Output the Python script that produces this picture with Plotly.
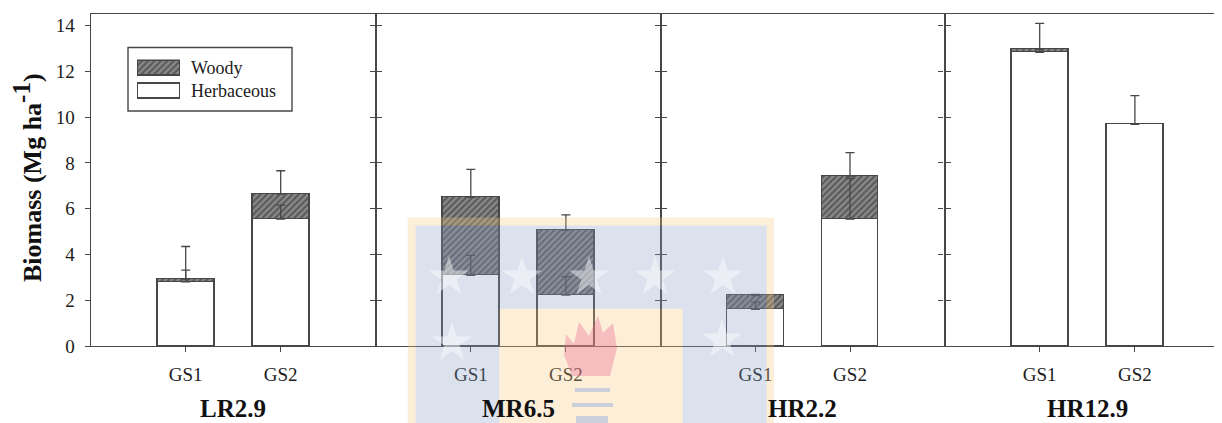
import math
import plotly.graph_objects as go

# ---------------- data ----------------
categories = ["GS1", "GS2"]
sites = ["LR2.9", "MR6.5", "HR2.2", "HR12.9"]
herbaceous = [[2.80, 5.55], [3.09, 2.23], [1.60, 5.55], [12.84, 9.69]]
woody = [[0.12, 1.09], [3.41, 2.84], [0.60, 1.88], [0.13, 0.0]]
herbaceous_err = [[0.52, 0.61], [0.87, 0.80], [0.32, 1.78], [0.15, 1.25]]
woody_err = [[1.43, 1.02], [1.22, 0.66], [0.05, 1.02], [1.13, None]]
y_ticks = [0, 2, 4, 6, 8, 10, 12, 14]

# ---------------- geometry helpers ----------------
# the page body has an 8 px margin, so the figure starts at (8, 8) of the window
OFF = 8
W, H = 1222 - OFF, 423 - OFF
def X(px):
    return (px - OFF) / W
def Y(py):
    return 1 - (py - OFF) / H

panel_px = [90.7, 375.7, 661.0, 944.5, 1222.0]
unit_px = 95.2
y_bottom_px, y_top_px = 346.0, 14.25
ymax = 14.5

FONT = "Liberation Serif"
LINE = "#474747"
HATCH_BG = "#888888"
HATCH_FG = "#262626"

fig = go.Figure()
pos = [1, 2]

for i, site in enumerate(sites):
    xa = "x" if i == 0 else f"x{i+1}"
    ya = "y" if i == 0 else f"y{i+1}"
    fig.add_trace(go.Bar(
        x=pos, y=herbaceous[i], width=0.6, xaxis=xa, yaxis=ya,
        marker=dict(color="white", line=dict(color=LINE, width=1.3)),
        name="Herbaceous", showlegend=False, hoverinfo="skip"))
    fig.add_trace(go.Bar(
        x=pos, y=woody[i], width=0.6, xaxis=xa, yaxis=ya,
        marker=dict(color=HATCH_BG, line=dict(color=LINE, width=1.3),
                    pattern=dict(shape="/", fgcolor=HATCH_FG, bgcolor=HATCH_BG,
                                 size=4.5, solidity=0.45)),
        name="Woody", showlegend=False, hoverinfo="skip"))
    # error bars (upper only) at the top of each segment
    fig.add_trace(go.Scatter(
        x=pos, y=herbaceous[i], xaxis=xa, yaxis=ya, mode="markers",
        marker=dict(size=1, color="rgba(0,0,0,0)"),
        error_y=dict(type="data", array=herbaceous_err[i], arrayminus=[0, 0],
                     symmetric=False, color=LINE, thickness=1.3, width=4.5),
        showlegend=False, hoverinfo="skip"))
    tops = [h + w for h, w in zip(herbaceous[i], woody[i])]
    ty = [t if e is not None else None for t, e in zip(tops, woody_err[i])]
    te = [e if e is not None else 0 for e in woody_err[i]]
    fig.add_trace(go.Scatter(
        x=pos, y=ty, xaxis=xa, yaxis=ya, mode="markers",
        marker=dict(size=1, color="rgba(0,0,0,0)"),
        error_y=dict(type="data", array=te, arrayminus=[0, 0],
                     symmetric=False, color=LINE, thickness=1.3, width=4.5),
        showlegend=False, hoverinfo="skip"))

# legend swatches (own small axes)
fig.add_trace(go.Bar(
    y=[0.8], x=[1], base=[0], width=[0.4], orientation="h", xaxis="x5", yaxis="y5",
    marker=dict(color=HATCH_BG, line=dict(color=LINE, width=1.3),
                pattern=dict(shape="/", fgcolor=HATCH_FG, bgcolor=HATCH_BG,
                             size=4.5, solidity=0.45)),
    showlegend=False, hoverinfo="skip"))
fig.add_trace(go.Bar(
    y=[0.2], x=[1], base=[0], width=[0.4], orientation="h", xaxis="x5", yaxis="y5",
    marker=dict(color="white", line=dict(color=LINE, width=1.3)),
    showlegend=False, hoverinfo="skip"))

layout = dict(
    width=W, height=H, margin=dict(l=0, r=0, t=0, b=0, autoexpand=False),
    paper_bgcolor="white", plot_bgcolor="rgba(0,0,0,0)",
    barmode="stack", bargap=0, showlegend=False,
    font=dict(family=FONT, size=19, color="#1c1c1c"),
)

ydom = [Y(y_bottom_px), Y(y_top_px)]
for i in range(4):
    xkey = "xaxis" if i == 0 else f"xaxis{i+1}"
    ykey = "yaxis" if i == 0 else f"yaxis{i+1}"
    xs = "x" if i == 0 else f"x{i+1}"
    ys = "y" if i == 0 else f"y{i+1}"
    x0, x1 = panel_px[i], panel_px[i + 1]
    xr = [0, (x1 - x0) / unit_px] if i == 3 else [0, 3]
    layout[xkey] = dict(
        domain=[X(x0), X(x1)], range=xr, anchor=ys, automargin=False,
        tickvals=pos, ticktext=categories, ticks="outside", ticklen=5,
        tickwidth=1.2, tickcolor=LINE, showline=True, linecolor=LINE, linewidth=1.3,
        mirror=True, showgrid=False, zeroline=False, fixedrange=True,
        tickfont=dict(size=19, family=FONT), ticklabelstandoff=6)
    layout[ykey] = dict(
        domain=ydom, range=[0, ymax], anchor=xs, automargin=False,
        tickvals=y_ticks, ticks="outside", ticklen=5, tickwidth=1.2, tickcolor=LINE,
        showline=True, linecolor=LINE, linewidth=1.3,
        mirror=("ticks" if i < 3 else False), showgrid=False, zeroline=False,
        showticklabels=(i == 0), tickfont=dict(size=19, family=FONT),
        ticklabelstandoff=6, fixedrange=True)

layout["xaxis5"] = dict(domain=[X(137.0), X(181.0)], range=[-0.02, 1.02],
                        anchor="y5", visible=False, fixedrange=True, automargin=False)
layout["yaxis5"] = dict(domain=[Y(99.5), Y(59.5)], range=[-0.03, 1.03],
                        anchor="x5", visible=False, fixedrange=True, automargin=False)

annotations = []
for i, site in enumerate(sites):
    cx = (panel_px[i] + panel_px[i + 1]) / 2 if i < 3 else panel_px[3] + 1.5 * unit_px
    annotations.append(dict(
        x=X(cx), y=Y(423), xref="paper", yref="paper", text=f"<b>{site}</b>",
        showarrow=False, xanchor="center", yanchor="bottom", borderpad=0,
        font=dict(family=FONT, size=25, color="#111")))
annotations.append(dict(
    x=X(27), y=Y(178), xref="paper", yref="paper",
    text="<b>Biomass (Mg ha<sup><span style='font-size:25px'>-1</span></sup>)</b>",
    textangle=-90, showarrow=False,
    xanchor="center", yanchor="middle", font=dict(family=FONT, size=26, color="#111")))
annotations.append(dict(x=X(189), y=Y(68.5), xref="paper", yref="paper", text="Woody",
                        showarrow=False, xanchor="left", yanchor="middle",
                        font=dict(family=FONT, size=18, color="#1c1c1c")))
annotations.append(dict(x=X(189), y=Y(90.5), xref="paper", yref="paper", text="Herbaceous",
                        showarrow=False, xanchor="left", yanchor="middle",
                        font=dict(family=FONT, size=18, color="#1c1c1c")))
layout["annotations"] = annotations

# ---------------- shapes: legend box + watermark ----------------
def poly(points):
    return "M" + " L".join(f"{X(px):.5f},{Y(py):.5f}" for px, py in points) + " Z"

def star(cx, cy, R):
    r = R * 0.382
    pts = []
    for k in range(10):
        ang = -math.pi / 2 + k * math.pi / 5
        rad = R if k % 2 == 0 else r
        pts.append((cx + rad * math.cos(ang), cy + rad * math.sin(ang)))
    return poly(pts)

shapes = [dict(type="rect", xref="paper", yref="paper", x0=X(128), x1=X(292),
               y0=Y(111), y1=Y(47.5), line=dict(color=LINE, width=1.4),
               fillcolor="rgba(0,0,0,0)", layer="above")]

ORANGE = "rgba(248,200,125,0.30)"
BLUE = "rgba(135,158,194,0.30)"
bottom = 440
shapes.append(dict(type="path", xref="paper", yref="paper", layer="above",
                   path=poly([(407.7, bottom), (407.7, 217.5), (774, 217.5), (774, bottom),
                              (766.7, bottom), (766.7, 225.5), (415.7, 225.5), (415.7, bottom)]),
                   fillcolor=ORANGE, line=dict(width=0)))
shapes.append(dict(type="path", xref="paper", yref="paper", layer="above",
                   path=poly([(415.7, bottom), (415.7, 225.5), (766.7, 225.5), (766.7, bottom),
                              (682.7, bottom), (682.7, 308.7), (499.3, 308.7), (499.3, bottom)]),
                   fillcolor=BLUE, line=dict(width=0)))
shapes.append(dict(type="path", xref="paper", yref="paper", layer="above",
                   path=poly([(499.3, 308.7), (682.7, 308.7), (682.7, bottom), (499.3, bottom)]),
                   fillcolor=ORANGE, line=dict(width=0)))
for cx, cy in [(449, 277), (522, 277), (589, 277), (655, 277), (723, 277), (452, 343), (722, 340)]:
    shapes.append(dict(type="path", xref="paper", yref="paper", layer="above",
                       path=star(cx, cy, 21), fillcolor="rgba(255,255,255,0.45)",
                       line=dict(width=0)))
shapes.append(dict(type="path", xref="paper", yref="paper", layer="above",
                   path=poly([(572, 376), (564, 355), (566, 334), (574, 344), (579, 322),
                              (589, 336), (598, 316), (603, 333), (613, 323), (617, 348),
                              (610, 376)]),
                   fillcolor="rgba(235,95,140,0.33)", line=dict(width=0)))
for x0, x1, y0, y1 in [(575, 610, 388, 392), (572, 613, 403, 407), (576, 608, 416, 423)]:
    shapes.append(dict(type="rect", xref="paper", yref="paper", layer="above",
                       x0=X(x0), x1=X(x1), y0=Y(y1), y1=Y(y0),
                       fillcolor="rgba(110,150,220,0.35)", line=dict(width=0)))
layout["shapes"] = shapes

fig.update_layout(**layout)
fig.write_html("out.html")
